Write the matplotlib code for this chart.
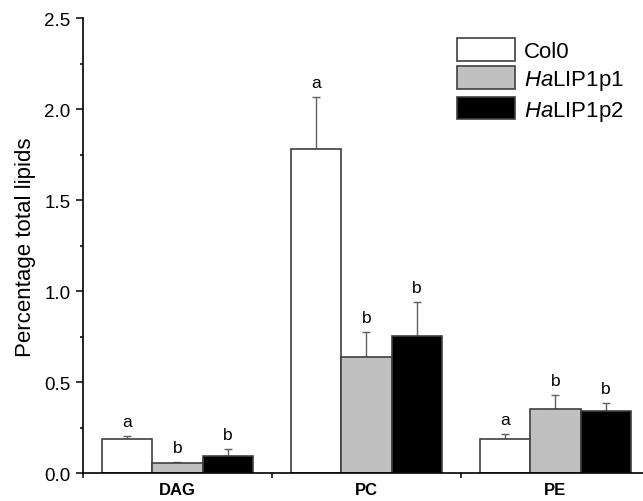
import numpy as np
import matplotlib
matplotlib.use("Agg")
import matplotlib.pyplot as plt
from matplotlib.ticker import MultipleLocator

plt.rcParams['font.family'] = ['Liberation Sans', 'DejaVu Sans']
plt.rcParams['mathtext.fontset'] = 'custom'
plt.rcParams['mathtext.rm'] = 'Liberation Sans'
plt.rcParams['mathtext.it'] = 'Liberation Sans:italic'

# data
lipids = ['DAG', 'PC', 'PE']
genotypes = ['Col0', r'$\it{Ha}$LIP1p1', r'$\it{Ha}$LIP1p2']
col0 = [0.190, 1.781, 0.191]
p1 = [0.056, 0.638, 0.354]
p2 = [0.096, 0.756, 0.345]
col0_err = [0.014, 0.285, 0.027]
p1_err = [0.005, 0.140, 0.079]
p2_err = [0.040, 0.185, 0.044]
col0_sig = ['a', 'a', 'a']
p1_sig = ['b', 'b', 'b']
p2_sig = ['b', 'b', 'b']

colors = ['white', '#c0c0c0', 'black']

fig = plt.figure(figsize=(6.43, 5.02), dpi=100)
ax = fig.add_axes([0.129, 0.0548, 0.871, 0.9072])

x = np.arange(len(lipids))
w = 0.267
series = [(col0, col0_err, col0_sig), (p1, p1_err, p1_sig), (p2, p2_err, p2_sig)]
for i, (vals, errs, sig) in enumerate(series):
    pos = x + (i - 1) * w
    ax.bar(pos, vals, w, color=colors[i], edgecolor='#404040', linewidth=1.2,
           label=genotypes[i], zorder=2)
    ax.errorbar(pos, vals, yerr=[np.zeros(len(errs)), errs], fmt='none',
                ecolor='#606060', elinewidth=1.0, capsize=3, capthick=1.0, zorder=1)
    for xp, v, e, s in zip(pos, vals, errs, sig):
        ax.annotate(s, (xp, v + e), xytext=(0, 5), textcoords='offset points',
                    ha='center', va='bottom', fontsize=12.5)

ax.set_xlim(-0.5, 2.463)
ax.set_ylim(0, 2.5)
ax.yaxis.set_major_locator(MultipleLocator(0.5))
ax.yaxis.set_minor_locator(MultipleLocator(0.25))
ax.yaxis.set_major_formatter(matplotlib.ticker.FormatStrFormatter('%.1f'))
ax.tick_params(axis='y', which='major', length=5, width=1.1, labelsize=13.5, pad=4)
ax.tick_params(axis='y', which='minor', length=2.5, width=1.1)

ax.set_xticks(x)
ax.set_xticklabels(lipids, fontweight='bold', fontsize=12)
ax.set_xticks([-0.5, 0.5, 1.5], minor=True)
ax.tick_params(axis='x', which='major', length=0, pad=6)
ax.tick_params(axis='x', which='minor', length=3.5, width=1.1)

ax.spines['top'].set_visible(False)
ax.spines['right'].set_visible(False)
ax.spines['left'].set_linewidth(1.2)
ax.spines['bottom'].set_linewidth(1.2)

ax.set_ylabel('Percentage total lipids', fontsize=16, labelpad=6)

ax.legend(loc='upper left', bbox_to_anchor=(457 / 643, 1 - 39 / 502),
          bbox_transform=fig.transFigure, frameon=False, fontsize=16,
          handlelength=2.6, handleheight=1.2, handletextpad=0.4,
          labelspacing=0.2, borderpad=0, borderaxespad=0)

fig.savefig('out.png', dpi=100)
